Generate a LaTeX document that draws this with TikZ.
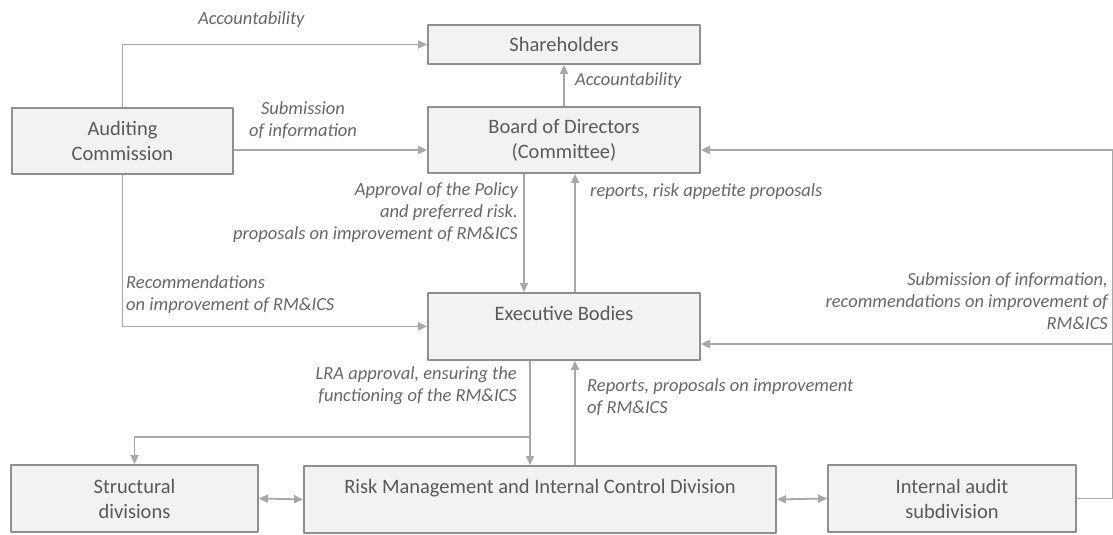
\documentclass[tikz,border=0pt]{standalone}
\usepackage{fontspec}
\setmainfont{Carlito}
\usetikzlibrary{arrows.meta}
\definecolor{boxline}{HTML}{8F8F8F}
\definecolor{boxfill}{HTML}{F2F2F2}
\definecolor{wire}{HTML}{A8A8A8}
\definecolor{boxtext}{HTML}{595959}
\definecolor{notetext}{HTML}{666666}
\tikzset{
  unitbox/.style={draw=boxline,fill=boxfill,line width=1.8pt,text=boxtext,
    align=center,inner sep=0pt,font=\fontsize{20.5}{25}\selectfont},
  note/.style={text=notetext,inner sep=0pt,font=\fontsize{18.5}{22}\selectfont\itshape},
  wire/.style={draw=wire,line width=1.8pt},
  arr/.style={wire,-{Triangle[length=9pt,width=8pt]}},
  twoarr/.style={wire,{Triangle[length=9pt,width=8pt]}-{Triangle[length=9pt,width=8pt]}}
}
\begin{document}
\begin{tikzpicture}[x=1pt,y=-1pt,line join=round]
  \useasboundingbox (0,0) rectangle (1113,535);
  % boxes
  \node[unitbox,minimum width=272pt,minimum height=39pt] (share) at (564,44.5) {Shareholders};
  \node[unitbox,minimum width=272pt,minimum height=66pt] (board) at (564,140) {Board of Directors\\(Committee)};
  \node[unitbox,minimum width=221pt,minimum height=66pt] (audit) at (122.5,141) {Auditing\\Commission};
  \node[unitbox,minimum width=272pt,text height=28pt,text depth=39pt,anchor=north] (exec) at (564,292) {Executive Bodies};
  \node[unitbox,minimum width=247pt,minimum height=67pt] (struct) at (134.5,498.5) {Structural\\divisions};
  \node[unitbox,minimum width=472pt,text height=28pt,text depth=39pt,anchor=north] (rmic) at (540,465) {Risk Management and Internal Control Division};
  \node[unitbox,minimum width=248pt,minimum height=67pt] (iaudit) at (952,498.5) {Internal audit\\subdivision};
  % connectors
  \draw[arr] (audit.north) |- (share.west);
  \draw[arr] ([yshift=-9pt]audit.east) -- ([yshift=-9pt]audit.east -| board.west);
  \draw[arr] (audit.south) |- (exec.west);
  \draw[arr] (board.north) -- (share.south);
  \draw[arr] ([xshift=-40pt]board.south) -- ([xshift=-40pt]board.south |- exec.north);
  \draw[arr] ([xshift=11pt]exec.north) -- ([xshift=11pt]exec.north |- board.south);
  \draw[arr] ([xshift=-34pt]exec.south) -- ([xshift=-34pt]exec.south |- rmic.north);
  \draw[arr] ([xshift=35pt]rmic.north) -- ([xshift=35pt]rmic.north |- exec.south);
  \coordinate (split) at (530,437);
  \draw[arr] (split) -| (struct.north);
  \draw[twoarr] (struct.east) -- (rmic.west);
  \draw[twoarr] (rmic.east) -- (iaudit.west);
  \coordinate (busB) at (1113,150);
  \coordinate (busE) at (1113,344);
  \draw[wire] (iaudit.east) -| (busB);
  \draw[arr] (busB) -- (busB -| board.east);
  \draw[arr] (busE) -- (busE -| exec.east);
  % labels
  \node[note,anchor=west] at (198,20) {Accountability};
  \node[note,align=center] at (303,120) {Submission\\of information};
  \node[note,anchor=west] at (575,81) {Accountability};
  \node[note,align=right,anchor=east] at (518,213) {Approval of the Policy\\and preferred risk.\\proposals on improvement of RM\&ICS};
  \node[note,anchor=west] at (590,192) {reports, risk appetite proposals};
  \node[note,align=left,anchor=west] at (126,294.5) {Recommendations\\on improvement of RM\&ICS};
  \node[note,align=right,anchor=east] at (517,385.5) {LRA approval, ensuring the\\functioning of the RM\&ICS};
  \node[note,align=left,anchor=west] at (587,397) {Reports, proposals on improvement\\of RM\&ICS};
  \node[note,align=right,anchor=east] at (1108,301) {Submission of information,\\recommendations on improvement of\\RM\&ICS};
\end{tikzpicture}
\end{document}
